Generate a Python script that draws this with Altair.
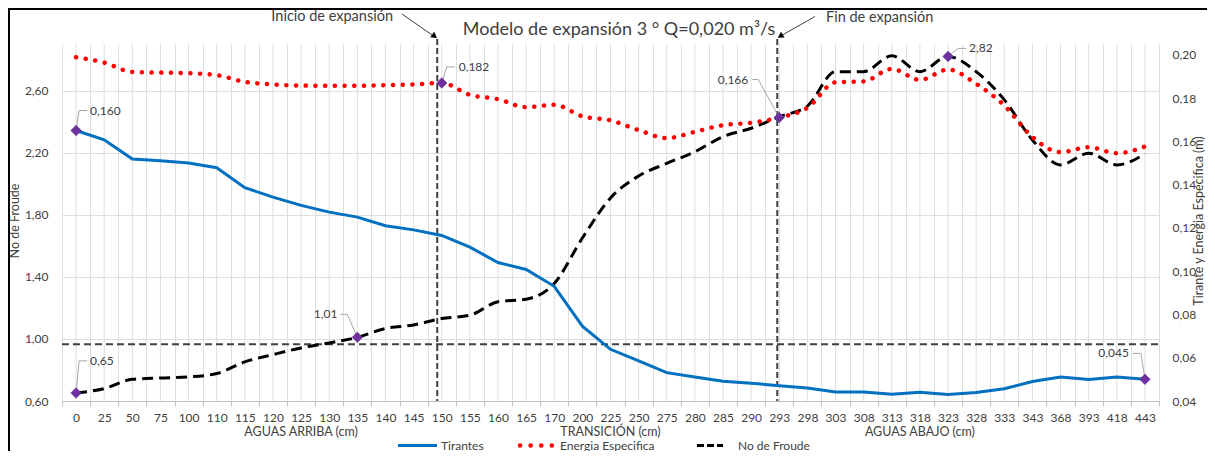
import altair as alt
import pandas as pd

# ---------------- data ----------------
categorias = ["0", "25", "50", "75", "100", "110", "115", "120", "125", "130", "135", "140", "145", "150",
              "155", "160", "165", "170", "200", "225", "250", "275", "280", "285", "290", "293",
              "298", "303", "308", "313", "318", "323", "328", "333", "343", "368", "393", "418", "443"]
tirantes = [0.160, 0.1557, 0.1468, 0.1460, 0.1450, 0.1428, 0.1336, 0.1292, 0.1254, 0.1223,
            0.1200, 0.1160, 0.1141, 0.1115, 0.1061, 0.0990, 0.0958, 0.0880, 0.0696, 0.0589,
            0.0535, 0.0481, 0.0461, 0.0441, 0.0432, 0.0421, 0.0410, 0.0392, 0.0392, 0.0381,
            0.0390, 0.0380, 0.0389, 0.0407, 0.0440, 0.0461, 0.0449, 0.0461, 0.045]
energia = [0.1939, 0.1914, 0.1871, 0.1868, 0.1865, 0.1856, 0.1825, 0.1813, 0.1808, 0.1807,
           0.1807, 0.1810, 0.1813, 0.182, 0.1765, 0.1745, 0.1708, 0.1719, 0.1666, 0.1647,
           0.1602, 0.1565, 0.1594, 0.1625, 0.1636, 0.166, 0.1705, 0.1823, 0.1827, 0.1885,
           0.1834, 0.1882, 0.1816, 0.1716, 0.1570, 0.1500, 0.1523, 0.1495, 0.1526]
froude = [0.652, 0.680, 0.740, 0.748, 0.755, 0.777, 0.852, 0.899, 0.942, 0.974,
          1.01, 1.067, 1.09, 1.131, 1.153, 1.239, 1.256, 1.357, 1.65, 1.908,
          2.05, 2.131, 2.206, 2.303, 2.357, 2.432, 2.50, 2.722, 2.722, 2.824,
          2.722, 2.82, 2.722, 2.54, 2.282, 2.121, 2.196, 2.121, 2.192]
froude_critico = 0.965
inicio_cat = "150"
fin_cat = "293"
tramos = ["AGUAS ARRIBA (cm)", "TRANSICIÓN (cm)", "AGUAS ABAJO (cm)"]
tramo_cats = ["125", "225", "318"]
left_ticks = [0.6, 1.0, 1.4, 1.8, 2.2, 2.6]
right_ticks = [0.035, 0.055, 0.075, 0.095, 0.115, 0.135, 0.155, 0.175, 0.195]
left_domain = [0.6, 2.9]
right_domain = [0.035, 0.20]
titulo = "Modelo de expansión 3 ° Q=0,020 m³/s"
titulo_y_izq = "No de Froude"
titulo_y_der = "Tirante y Energia Especifica (m)"
series_nombres = ["Tirantes", "Energia Especifica", "No de Froude"]
texto_inicio = "Inicio de expansión"
texto_fin = "Fin de expansión"
etiquetas = [("tirantes", "0"), ("tirantes", "443"), ("energia", "150"), ("energia", "293"),
             ("froude", "0"), ("froude", "135"), ("froude", "323")]

# ---------------- layout / style ----------------
W, H = 1097, 357
PAD = {"left": 54, "top": 36, "right": 48, "bottom": 50}
OX, OY = 8 + PAD["left"], 8 + PAD["top"]   # page position of plot origin


def px(x):
    return x - OX


def py(y):
    return y - OY


FONT = "Lato"
TXT = "#404040"
GRID = "#dedede"
BLUE = "#0070C0"
RED = "#FF0000"
PURPLE = "#7030A0"
LEADER = "#a6a6a6"
FROUDE_DASH = [11, 6]
DOT_DASH = [0.1, 9.6]

# label layout: (elbow_dx, elbow_dy, end_dx, text_dx, align)
etiqueta_layout = {
    ("tirantes", "0"): (3, -20, 11, 14, "left"),
    ("tirantes", "443"): (-4, -26, -12, -16, "right"),
    ("energia", "150"): (5, -16, 13, 17, "left"),
    ("energia", "293"): (-21, -38, -27, -31, "right"),
    ("froude", "0"): (3, -32, 11, 14, "left"),
    ("froude", "135"): (-10, -23, -17, -20, "right"),
    ("froude", "323"): (10, -8, 18, 21, "left"),
}

df = pd.DataFrame({"cat": categorias, "tirantes": tirantes, "energia": energia, "froude": froude})
uno = pd.DataFrame({"k": [0]})

x_axis = alt.Axis(title=None, labelAngle=0, tickBand="extent", grid=True, gridColor=GRID,
                  domainColor="#bfbfbf", tickColor="#bfbfbf", tickSize=5, labelPadding=6,
                  labelFont=FONT, labelFontSize=12, labelColor=TXT, labelOverlap=False)
x_scale = alt.Scale(type="band", domain=categorias, paddingInner=0, paddingOuter=0)
X = alt.X("cat:N", scale=x_scale, axis=x_axis)

left_axis = alt.Axis(title=None, orient="left", values=left_ticks,
                     labelExpr="replace(format(datum.value, '.2f'), '.', ',')",
                     grid=True, gridColor=GRID, domain=False, ticks=False, labelPadding=14,
                     labelFont=FONT, labelFontSize=12, labelColor=TXT)
right_axis = alt.Axis(title=None, orient="right", values=right_ticks,
                      labelExpr="replace(format(round(datum.value*100 + 1e-6)/100, '.2f'), '.', ',')",
                      grid=False, domain=False, ticks=False, labelPadding=13,
                      labelFont=FONT, labelFontSize=12, labelColor=TXT)
yl_scale = alt.Scale(domain=left_domain, nice=False, zero=False)
yr_scale = alt.Scale(domain=right_domain, nice=False, zero=False)


def YL(f):
    return alt.Y(f"{f}:Q", scale=yl_scale, axis=left_axis)


def YR(f):
    return alt.Y(f"{f}:Q", scale=yr_scale, axis=right_axis)


base = alt.Chart(df)

# centre gridlines (boundary gridlines come from the axis)
grid_v = base.mark_rule(color=GRID, strokeWidth=1).encode(x=X, y=alt.value(0), y2=alt.value(H))

# expansion marker lines
vl_ini = alt.Chart(pd.DataFrame({"cat": [inicio_cat]})).mark_rule(
    color="#404040", strokeWidth=2, strokeDash=[6, 3], xOffset=-4.5
).encode(x=X, y=alt.value(-5), y2=alt.value(H))
vl_fin = alt.Chart(pd.DataFrame({"cat": [fin_cat]})).mark_rule(
    color="#404040", strokeWidth=2, strokeDash=[6, 3], xOffset=-2
).encode(x=X, y=alt.value(-5), y2=alt.value(H))


def anotacion(serie, cat, yfun):
    i = categorias.index(cat)
    v = {"tirantes": tirantes, "energia": energia, "froude": froude}[serie][i]
    dec = 2 if serie == "froude" else 3
    txt = f"{v:.{dec}f}".replace(".", ",")
    d = pd.DataFrame({"cat": [cat], "val": [v], "txt": [txt]})
    ex, ey, endx, tdx, al = etiqueta_layout[(serie, cat)]
    c = alt.Chart(d)
    Y = yfun("val")
    l1 = c.mark_rule(color=LEADER, strokeWidth=1, x2Offset=ex, y2Offset=ey).encode(
        x=X, y=Y, x2=alt.X2("cat"), y2=alt.Y2("val"))
    l2 = c.mark_rule(color=LEADER, strokeWidth=1, xOffset=ex, yOffset=ey,
                     x2Offset=endx, y2Offset=ey).encode(
        x=X, y=Y, x2=alt.X2("cat"), y2=alt.Y2("val"))
    t = c.mark_text(dx=tdx, dy=ey, align=al, baseline="middle", font=FONT, fontSize=12,
                    color=TXT).encode(x=X, y=Y, text="txt:N")
    p = c.mark_point(shape="diamond", filled=True, size=110, color=PURPLE, opacity=1,
                     stroke="#5b2a85", strokeWidth=0.6).encode(x=X, y=Y)
    return [l1, l2, t, p]


# left group (Froude)
ref_line = alt.Chart(pd.DataFrame({"v": [froude_critico]})).mark_rule(
    color="#404040", strokeWidth=2, strokeDash=[7, 4]
).encode(y=YL("v"), x=alt.value(0), x2=alt.value(W))
froude_line = base.mark_line(color="black", strokeWidth=3, strokeDash=FROUDE_DASH,
                             interpolate="monotone").encode(x=X, y=YL("froude"))
left_layers = [ref_line, froude_line]

# right group (Tirantes, Energía)
tir_line = base.mark_line(color=BLUE, strokeWidth=3).encode(x=X, y=YR("tirantes"))
ene_line = base.mark_line(color=RED, strokeWidth=4.5, strokeDash=DOT_DASH, strokeCap="round",
                          interpolate="monotone").encode(x=X, y=YR("energia"))
right_layers = [tir_line, ene_line]

for serie, cat in etiquetas:
    if serie == "froude":
        left_layers += anotacion(serie, cat, YL)
    else:
        right_layers += anotacion(serie, cat, YR)

left = alt.layer(*left_layers)
right = alt.layer(*right_layers)

# texts & decorations
u = alt.Chart(uno)
title_t = u.mark_text(text=titulo, font=FONT, fontSize=18, color=TXT, align="center",
                      baseline="middle").encode(x=alt.value(px(619)), y=alt.value(py(30)))
tramo_df = pd.DataFrame({"cat": tramo_cats, "txt": tramos})
tramo_t = alt.Chart(tramo_df).mark_text(font=FONT, fontSize=12.5, color=TXT, align="center",
                                        baseline="middle").encode(
    x=X, y=alt.value(py(431.5)), text="txt:N")
ytl = u.mark_text(text=titulo_y_izq, font=FONT, fontSize=12.5, color=TXT, angle=270,
                  align="center", baseline="middle").encode(x=alt.value(px(15)), y=alt.value(py(221)))
ytr = u.mark_text(text=titulo_y_der, font=FONT, fontSize=12.5, color=TXT, angle=270,
                  align="center", baseline="middle").encode(x=alt.value(px(1199)), y=alt.value(py(221)))

ini_t = u.mark_text(text=texto_inicio, font=FONT, fontSize=14.5, color=TXT, align="right",
                    baseline="middle").encode(x=alt.value(px(393)), y=alt.value(py(17)))
ini_l = u.mark_rule(color="#404040", strokeWidth=1).encode(
    x=alt.value(px(402)), y=alt.value(py(14)), x2=alt.value(px(434)), y2=alt.value(py(36.3)))
ini_a = u.mark_point(shape="triangle-down", filled=True, size=45, color="black", opacity=1,
                     angle=306).encode(x=alt.value(px(434.6)), y=alt.value(py(36.2)))
fin_t = u.mark_text(text=texto_fin, font=FONT, fontSize=14.5, color=TXT, align="left",
                    baseline="middle").encode(x=alt.value(px(826)), y=alt.value(py(17.5)))
fin_l = u.mark_rule(color="#404040", strokeWidth=1).encode(
    x=alt.value(px(815)), y=alt.value(py(16.5)), x2=alt.value(px(781)), y2=alt.value(py(35.8)))
fin_a = u.mark_point(shape="triangle-down", filled=True, size=45, color="black", opacity=1,
                     angle=58).encode(x=alt.value(px(780.3)), y=alt.value(py(36.2)))

# legend
LY = py(445.5)
leg = [
    u.mark_rule(color=BLUE, strokeWidth=3).encode(
        x=alt.value(px(398)), x2=alt.value(px(437)), y=alt.value(LY)),
    u.mark_text(text=series_nombres[0], font=FONT, fontSize=12, color=TXT, align="left",
                baseline="middle").encode(x=alt.value(px(441)), y=alt.value(LY)),
    u.mark_rule(color=RED, strokeWidth=4.5, strokeDash=[0.1, 10.5], strokeCap="round").encode(
        x=alt.value(px(520)), x2=alt.value(px(556)), y=alt.value(LY)),
    u.mark_text(text=series_nombres[1], font=FONT, fontSize=12, color=TXT, align="left",
                baseline="middle").encode(x=alt.value(px(560)), y=alt.value(LY)),
    u.mark_rule(color="black", strokeWidth=3, strokeDash=[7, 3]).encode(
        x=alt.value(px(697)), x2=alt.value(px(723)), y=alt.value(LY)),
    u.mark_text(text=series_nombres[2], font=FONT, fontSize=12, color=TXT, align="left",
                baseline="middle").encode(x=alt.value(px(738)), y=alt.value(LY)),
]

# chart border (top & left visible)
border = [
    u.mark_rule(color="black", strokeWidth=2).encode(
        x=alt.value(px(8)), x2=alt.value(W + 100), y=alt.value(py(9))),
    u.mark_rule(color="black", strokeWidth=2).encode(
        x=alt.value(px(9)), y=alt.value(py(8)), y2=alt.value(H + 100)),
]

chart = alt.layer(
    grid_v, vl_ini, vl_fin, left, right,
    title_t, tramo_t, ytl, ytr, ini_t, ini_l, ini_a, fin_t, fin_l, fin_a, *leg, *border
).resolve_scale(y="independent").properties(
    width=W, height=H, padding=PAD, autosize=alt.AutoSizeParams(type="none"), background="white"
).configure_view(stroke=None)

chart.save("out.html", embed_options={"renderer": "svg", "actions": False})
